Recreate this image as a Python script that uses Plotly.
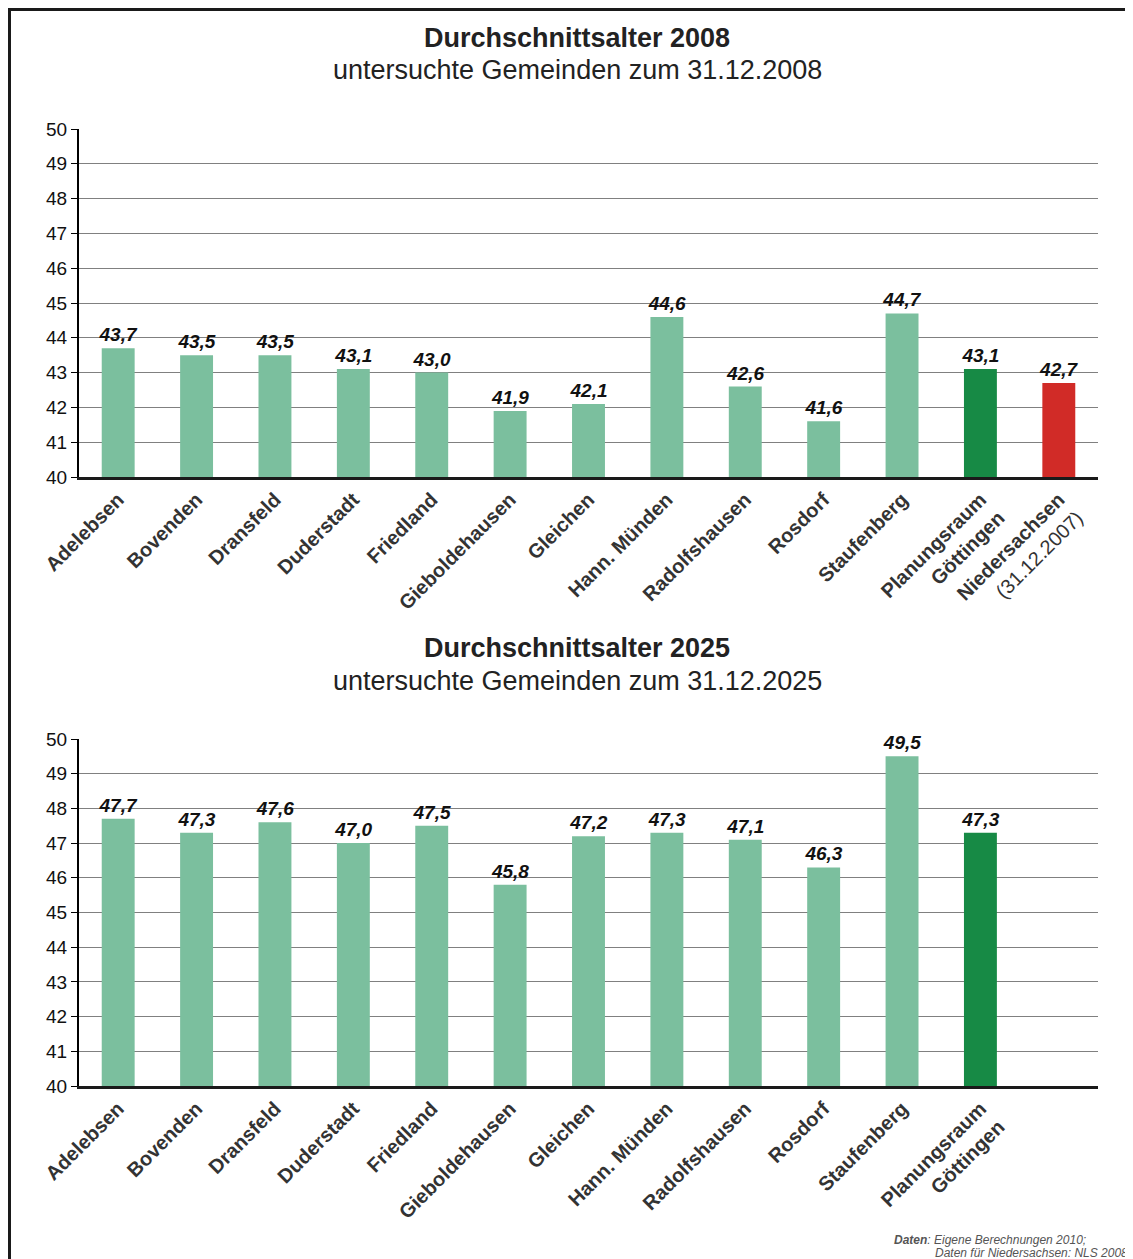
import plotly.graph_objects as go

categories_2008 = ["Adelebsen", "Bovenden", "Dransfeld", "Duderstadt", "Friedland",
                   "Gieboldehausen", "Gleichen", "Hann. Münden", "Radolfshausen",
                   "Rosdorf", "Staufenberg", "Planungsraum<br>Göttingen",
                   "Niedersachsen<br>(31.12.2007)"]
values_2008 = [43.7, 43.5, 43.5, 43.1, 43.0, 41.9, 42.1, 44.6, 42.6, 41.6, 44.7, 43.1, 42.7]

categories_2025 = categories_2008[:12]
values_2025 = [47.7, 47.3, 47.6, 47.0, 47.5, 45.8, 47.2, 47.3, 47.1, 46.3, 49.5, 47.3]

y_ticks = list(range(40, 51))

LIGHT = "#7bbf9e"
DARK = "#178a45"
RED = "#d12b27"
FONT = "Arial, Liberation Sans, sans-serif"

OFF = 8  # page body margin
W, H = 1133 - OFF, 1259 - OFF


def px_x(x):
    return (x - OFF) / W


def px_y(y):
    return 1 - (y - OFF) / H


def fmt(v):
    return f"{v:.1f}".replace(".", ",")


def ticklabel(c):
    if "<br>(" in c:
        a, b = c.split("<br>")
        return f"<b>{a}</b><br>{b}"
    return "<b>" + c.replace("<br>", "</b><br><b>") + "</b>"


colors_2008 = [LIGHT] * 11 + [DARK, RED]
colors_2025 = [LIGHT] * 11 + [DARK]

fig = go.Figure()

lblfont = dict(family=FONT, size=19, color="#111", weight="bold", style="italic")

fig.add_trace(go.Bar(
    x=list(range(len(values_2008))), y=values_2008,
    marker=dict(color=colors_2008, line=dict(width=0)),
    width=0.42,
    text=[fmt(v) for v in values_2008], textposition="outside", constraintext="none",
    textfont=lblfont,
    cliponaxis=False, xaxis="x", yaxis="y", showlegend=False,
))
fig.add_trace(go.Bar(
    x=list(range(len(values_2025))), y=values_2025,
    marker=dict(color=colors_2025, line=dict(width=0)),
    width=0.42,
    text=[fmt(v) for v in values_2025], textposition="outside", constraintext="none",
    textfont=lblfont,
    cliponaxis=False, xaxis="x2", yaxis="y2", showlegend=False,
))

xdom = [px_x(79), px_x(1098)]
xcommon = dict(range=[-0.5, 12.5], showgrid=False, zeroline=False, automargin=False,
               showline=True, linecolor="#1a1a1a", linewidth=3,
               tickangle=-45, ticks="", tickfont=dict(family=FONT, size=20, color="#333"),
               domain=xdom)
ycommon = dict(range=[40, 50], tickvals=y_ticks, showgrid=True, gridcolor="#808080",
               gridwidth=1.3, zeroline=False, showline=True, linecolor="#000",
               automargin=False,
               linewidth=2, ticks="outside", ticklen=6, tickcolor="#000",
               tickfont=dict(family=FONT, size=19, color="#111"))

fig.update_layout(
    width=W, height=H,
    margin=dict(l=0, r=0, t=0, b=0),
    paper_bgcolor="white", plot_bgcolor="white",
    bargap=0.58,
    xaxis=dict(**xcommon, anchor="y",
               tickvals=list(range(len(categories_2008))),
               ticktext=[ticklabel(c) for c in categories_2008]),
    yaxis=dict(**ycommon, domain=[px_y(477), px_y(129)], anchor="x"),
    xaxis2=dict(**xcommon, anchor="y2",
                tickvals=list(range(len(categories_2025))),
                ticktext=[ticklabel(c) for c in categories_2025]),
    yaxis2=dict(**ycommon, domain=[px_y(1086), px_y(739)], anchor="x2"),
    font=dict(family=FONT),
)

annotations = [
    dict(text="<b>Durchschnittsalter 2008</b>", x=px_x(577), y=px_y(38), size=27),
    dict(text="untersuchte Gemeinden zum 31.12.2008", x=px_x(577), y=px_y(70), size=27),
    dict(text="<b>Durchschnittsalter 2025</b>", x=px_x(577), y=px_y(648), size=27),
    dict(text="untersuchte Gemeinden zum 31.12.2025", x=px_x(577), y=px_y(681), size=27),
]
for a in annotations:
    fig.add_annotation(text=a["text"], x=a["x"], y=a["y"], xref="paper", yref="paper",
                       xanchor="center", yanchor="middle", showarrow=False,
                       font=dict(family=FONT, size=a["size"], color="#222"))

fig.add_annotation(text="<b><i>Daten</i></b><i>: Eigene Berechnungen 2010;</i>",
                   x=px_x(892), y=px_y(1240), xref="paper", yref="paper",
                   xanchor="left", yanchor="middle", showarrow=False,
                   font=dict(family=FONT, size=12, color="#555"))
fig.add_annotation(text="<i>Daten für Niedersachsen: NLS 2008</i>",
                   x=px_x(1130), y=px_y(1253), xref="paper", yref="paper",
                   xanchor="right", yanchor="middle", showarrow=False,
                   font=dict(family=FONT, size=12, color="#555"))

fig.add_shape(type="rect", xref="paper", yref="paper",
              x0=px_x(9.5), x1=px_x(1150), y0=px_y(1275), y1=px_y(9.5),
              line=dict(color="#1a1a1a", width=3), fillcolor="rgba(0,0,0,0)", layer="above")

fig.write_html("out.html")
